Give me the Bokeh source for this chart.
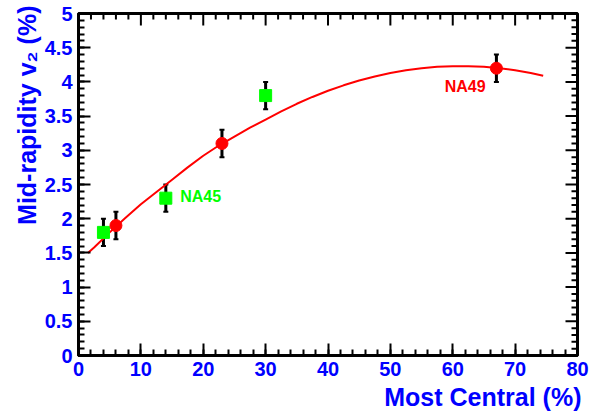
import math
from bokeh.plotting import figure
from bokeh.models import (ColumnDataSource, Whisker, TeeHead, FixedTicker, Range1d, Label, Title)
from bokeh.embed import file_html
from bokeh.resources import INLINE

# ---- data ----
na49_x = [6, 23, 67]
na49_y = [1.9, 3.1, 4.2]
na49_err = [0.2, 0.2, 0.2]

na45_x = [4, 14, 30]
na45_y = [1.8, 2.3, 3.8]
na45_err = [0.2, 0.2, 0.2]

# fit curve
fit_x = [1.5, 2.5, 5, 7.5, 10, 12.5, 15, 17.5, 20, 22.5, 25, 27.5, 30, 32.5, 35, 37.5,
         40, 42.5, 45, 47.5, 50, 52.5, 55, 57.5, 60, 62.5, 65, 67.5, 70, 72.5, 74.5]
fit_y = [1.50, 1.58, 1.80, 2.01, 2.21, 2.39, 2.57, 2.75, 2.92, 3.07, 3.20, 3.33, 3.45, 3.57,
         3.68, 3.78, 3.87, 3.95, 4.02, 4.08, 4.13, 4.17, 4.20, 4.22, 4.23, 4.23, 4.22, 4.20,
         4.17, 4.13, 4.09]

x_ticks = [0, 10, 20, 30, 40, 50, 60, 70, 80]
x_tick_labels = ["0", "10", "20", "30", "40", "50", "60", "70", "80"]
x_minor = [i * 2 for i in range(41)]
y_ticks = [0, 0.5, 1, 1.5, 2, 2.5, 3, 3.5, 4, 4.5, 5]
y_tick_labels = ["0", "0.5", "1", "1.5", "2", "2.5", "3", "3.5", "4", "4.5", "5"]
y_minor = [round(i * 0.1, 1) for i in range(51)]

x_title = "Most Central (%)"
y_title = "Mid-rapidity v\u2082 (%)"

BLUE = "#0000FF"
RED = "#FF0000"
GREEN = "#00FF00"
FONT = "Liberation Sans"

p = figure(width=597, height=416, output_backend="svg", toolbar_location=None,
           x_range=Range1d(0, 80), y_range=Range1d(0, 5))
p.min_border_left = 78
p.min_border_right = 20
p.min_border_top = 13
p.min_border_bottom = 61
p.xgrid.visible = False
p.ygrid.visible = False
p.outline_line_color = "black"
p.outline_line_width = 3
p.background_fill_color = "white"
p.border_fill_color = "white"

def style_axis(ax, ticks, minor, labels):
    ax.ticker = FixedTicker(ticks=ticks, minor_ticks=minor)
    ax.major_tick_in = 12
    ax.major_tick_out = 0
    ax.minor_tick_in = 6
    ax.minor_tick_out = 0
    ax.major_tick_line_width = 2
    ax.minor_tick_line_width = 2
    ax.major_tick_line_color = "black"
    ax.minor_tick_line_color = "black"
    ax.axis_line_color = "black"
    ax.axis_line_width = 3
    ax.major_label_overrides = {t: l for t, l in zip(ticks, labels)}
    ax.major_label_text_font = FONT
    ax.major_label_text_font_style = "bold"
    ax.major_label_text_font_size = "20px"
    ax.major_label_text_color = BLUE
    ax.major_label_standoff = 6

xa = p.xaxis[0]
ya = p.yaxis[0]
style_axis(xa, x_ticks, x_minor, x_tick_labels)
style_axis(ya, y_ticks, y_minor, y_tick_labels)
ya.major_label_orientation = "horizontal"

# axis titles, right-aligned to the axis ends (ROOT style)
p.add_layout(Title(text=x_title, align="right", offset=-4, standoff=4,
                   text_color=BLUE, text_font=FONT, text_font_style="bold",
                   text_font_size="25px"), "below")
p.add_layout(Title(text=y_title, align="right", offset=-8, standoff=2,
                   text_color=BLUE, text_font=FONT, text_font_style="bold",
                   text_font_size="25px"), "left")

# inward ticks on the top and right edges (half of each dash is clipped by the frame)
x_minor_only = [t for t in x_minor if t not in x_ticks]
y_minor_only = [t for t in y_minor if t not in y_ticks]
p.scatter(x_ticks, [5] * len(x_ticks), marker="dash", size=24, angle=math.pi / 2,
          line_color="black", line_width=2)
p.scatter(x_minor_only, [5] * len(x_minor_only), marker="dash", size=12, angle=math.pi / 2,
          line_color="black", line_width=2)
p.scatter([80] * len(y_ticks), y_ticks, marker="dash", size=24,
          line_color="black", line_width=2)
p.scatter([80] * len(y_minor_only), y_minor_only, marker="dash", size=12,
          line_color="black", line_width=2)

# fit curve
p.line(fit_x, fit_y, line_color=RED, line_width=2)

# error bars
for xs, ys, es in ((na45_x, na45_y, na45_err), (na49_x, na49_y, na49_err)):
    src = ColumnDataSource(dict(x=xs, lo=[y - e for y, e in zip(ys, es)],
                                hi=[y + e for y, e in zip(ys, es)]))
    w = Whisker(source=src, base="x", lower="lo", upper="hi",
                line_color="black", line_width=3,
                upper_head=TeeHead(size=5, line_color="black", line_width=2),
                lower_head=TeeHead(size=5, line_color="black", line_width=2))
    p.add_layout(w)

p.scatter(na45_x, na45_y, marker="square", size=12, fill_color=GREEN, line_color=GREEN)
p.scatter(na49_x, na49_y, marker="circle", size=12, fill_color=RED, line_color=RED)

p.add_layout(Label(x=16.3, y=2.32, text="NA45", text_color=GREEN, text_font=FONT,
                   text_font_style="bold", text_font_size="16px", text_baseline="middle"))
p.add_layout(Label(x=58.7, y=3.93, text="NA49", text_color=RED, text_font=FONT,
                   text_font_style="bold", text_font_size="16px", text_baseline="middle"))

open("out.html", "w").write(file_html(p, INLINE))
